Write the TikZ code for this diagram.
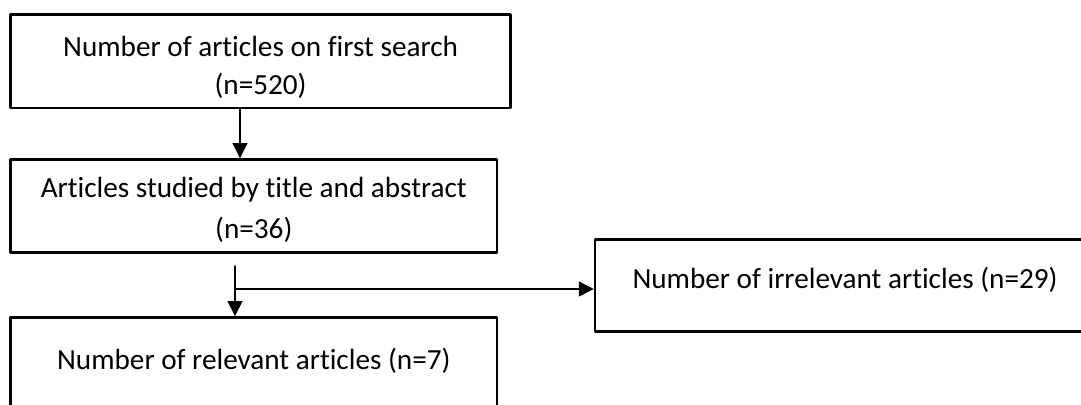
\documentclass[tikz,border=0pt]{standalone}
\usepackage{fontspec}
\setmainfont{Carlito}[Ligatures=CommonOff]
\usetikzlibrary{arrows.meta,positioning}

\begin{document}
\begin{tikzpicture}[line cap=round,line join=round,x=0.5pt,y=-0.5pt,
		box/.style={draw,line width=1.25pt,line cap=butt,inner sep=0pt},
		txt/.style={inner sep=0pt,align=center,font=\fontsize{14.6}{19}\selectfont},
		arr/.style={line width=0.65pt,-{Triangle[length=7.5pt,width=7.5pt]}}]
	\clip (0,0) rectangle (1081,404);
	% boxes
	\node[box,minimum width=250pt,minimum height=46.7pt] (first) at (260.6,61.4) {};
	\node[box,minimum width=243.3pt,minimum height=46.5pt] (studied) at (253.8,205.8) {};
	\node[box,minimum width=243.3pt,minimum height=46.5pt] (rel) at (253.8,363.8) {};
	\node[box,minimum width=250pt,minimum height=46.2pt] (irr) at (845,285.5) {};
	\node[txt] (firsttext) at ([yshift=-3pt]first.center) {Number of articles on first search\\(n=520)};
	\node[txt] (studiedtext) at ([yshift=-2pt]studied.center) {Articles studied by title and abstract\\[1.5pt](n=36)};
	\node[txt] (reltext) at ([yshift=-22.5pt]rel.north) {Number of relevant articles (n=7)};
	\node[txt] (irrtext) at ([yshift=3pt]irr.center) {Number of irrelevant articles (n=29)};
	% connectors
	\coordinate (down) at ([xshift=-10.3pt]first.south);
	\draw[arr] (down) -- (down |- studied.north);
	\coordinate (split) at (235,266);
	\coordinate (branch) at (235,289);
	\draw[arr] (split) -- (split |- rel.north);
	\draw[arr] (branch) -- (branch -| irr.west);
\end{tikzpicture}
\end{document}
